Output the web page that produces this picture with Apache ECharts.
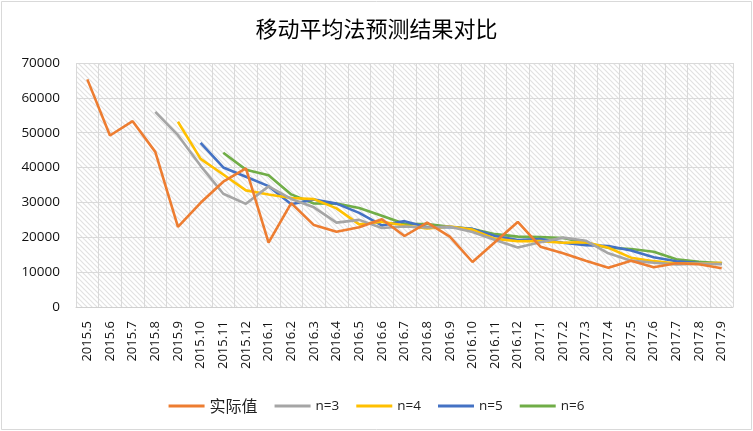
<!DOCTYPE html>
<html>
<head>
<meta charset="utf-8">
<script src="https://cdn.jsdelivr.net/npm/echarts@6/dist/echarts.min.js"></script>
<style>
  html, body { margin: 0; padding: 0; background: #fff; }
  #chart { width: 753px; height: 431px; }
</style>
</head>
<body>
<div id="chart"></div>
<script>
const months = [
  '2015.5', '2015.6', '2015.7', '2015.8', '2015.9', '2015.10', '2015.11', '2015.12',
  '2016.1', '2016.2', '2016.3', '2016.4', '2016.5', '2016.6', '2016.7', '2016.8',
  '2016.9', '2016.10', '2016.11', '2016.12', '2017.1', '2017.2', '2017.3', '2017.4',
  '2017.5', '2017.6', '2017.7', '2017.8', '2017.9'
]

// 实际值
const actual = [
  65300, 49200, 53300, 44500, 23000, 29900, 35950, 39800,
  18450, 29800, 23500, 21600, 22870, 25160, 20370, 24190,
  20170, 12910, 18650, 24390, 17300, 15400, 13290, 11280,
  13290, 11390, 12540, 12250, 11100
]

const ma3 = [
  null, null, null, 56000, 49300, 40500, 32500, 29600,
  34600, 31000, 28600, 24200, 25000, 22650, 23100, 22800,
  23000, 21500, 19200, 17100, 18550, 19900, 19030, 15400,
  13300, 12700, 12200, 12450, 12300
]

const ma4 = [
  null, null, null, null, 53150, 42500, 38000, 33450,
  32300, 31250, 30950, 28300, 23700, 24450, 23400, 22550,
  23100, 22200, 19550, 18850, 18900, 18450, 18600, 17000,
  14150, 13150, 12450, 12500, 12700
]

const ma5 = [
  null, null, null, null, null, 47100, 40030, 37350,
  34670, 29500, 30850, 29650, 27000, 23400, 24630, 22870,
  22950, 22400, 20350, 19240, 19500, 18450, 17760, 17500,
  16200, 14300, 13100, 12600, 12450
]

const ma6 = [
  null, null, null, null, null, null, 44250, 39400,
  37800, 32300, 29700, 29650, 28400, 26200, 23900, 23800,
  23000, 22350, 20900, 20200, 20050, 19800, 18450, 17000,
  16650, 15850, 13680, 12950, 12550
]

const seriesNames = ['实际值', 'n=3', 'n=4', 'n=5', 'n=6']
const seriesColors = ['#ED7D31', '#A5A5A5', '#FFC000', '#4472C4', '#70AD47']
const seriesData = [actual, ma3, ma4, ma5, ma6]

const yTicks = { min: 0, max: 70000, interval: 10000 }

// diagonal hatch for the plot area
function makeHatch() {
  const size = 5
  const c = document.createElement('canvas')
  c.width = size
  c.height = size
  const ctx = c.getContext('2d')
  ctx.fillStyle = '#ffffff'
  ctx.fillRect(0, 0, size, size)
  ctx.strokeStyle = '#e2e2e2'
  ctx.lineWidth = 1.2
  ctx.beginPath()
  ctx.moveTo(-1, -1)
  ctx.lineTo(size + 1, size + 1)
  ctx.moveTo(-1, size - 1)
  ctx.lineTo(1, size + 1)
  ctx.moveTo(size - 1, -1)
  ctx.lineTo(size + 1, 1)
  ctx.stroke()
  return c
}

const chart = echarts.init(document.getElementById('chart'))

chart.setOption({
  animation: false,
  backgroundColor: '#fff',
  title: {
    text: '移动平均法预测结果对比',
    left: 'center',
    top: 13,
    textStyle: {
      fontFamily: 'Noto Sans CJK SC',
      fontSize: 22,
      fontWeight: 'normal',
      color: '#000'
    }
  },
  graphic: [{
    type: 'rect',
    silent: true,
    z: -10,
    shape: { x: 1.5, y: 1.5, width: 750, height: 428 },
    style: { fill: 'none', stroke: '#d9d9d9', lineWidth: 1 }
  }],
  legend: {
    bottom: 12,
    left: 'center',
    itemGap: 17,
    itemWidth: 36,
    itemHeight: 3,
    icon: 'rect',
    data: seriesNames,
    formatter: (name) => (name === '实际值' ? '{cn|' + name + '}' : name),
    textStyle: {
      fontFamily: 'Open Sans',
      fontSize: 13.5,
      color: '#222',
      rich: {
        cn: { fontFamily: 'Noto Sans CJK SC', fontSize: 16, color: '#222' }
      }
    }
  },
  grid: {
    left: 76,
    right: 20,
    top: 63,
    bottom: 124,
    show: true,
    borderWidth: 0,
    backgroundColor: { image: makeHatch(), repeat: 'repeat' }
  },
  xAxis: {
    type: 'category',
    data: months,
    boundaryGap: true,
    axisLine: { lineStyle: { color: '#d0d0d0', width: 1 } },
    axisTick: { show: false },
    splitLine: { show: true, lineStyle: { color: '#d9d9d9', width: 1 } },
    axisLabel: {
      rotate: 90,
      interval: 0,
      margin: 14,
      fontFamily: 'Open Sans',
      fontSize: 13,
      color: '#111'
    }
  },
  yAxis: {
    type: 'value',
    min: yTicks.min,
    max: yTicks.max,
    interval: yTicks.interval,
    axisLine: { show: false },
    axisTick: { show: false },
    splitLine: { lineStyle: { color: '#d9d9d9', width: 1 } },
    axisLabel: {
      margin: 16,
      fontFamily: 'Open Sans',
      fontSize: 13.5,
      color: '#111',
      formatter: (v) => String(v)
    }
  },
  series: seriesNames.map((name, idx) => ({
    name,
    type: 'line',
    data: seriesData[idx],
    showSymbol: false,
    symbol: 'none',
    connectNulls: false,
    lineStyle: { color: seriesColors[idx], width: 2.6 },
    itemStyle: { color: seriesColors[idx] },
    z: 10 - idx
  }))
})
</script>
</body>
</html>
